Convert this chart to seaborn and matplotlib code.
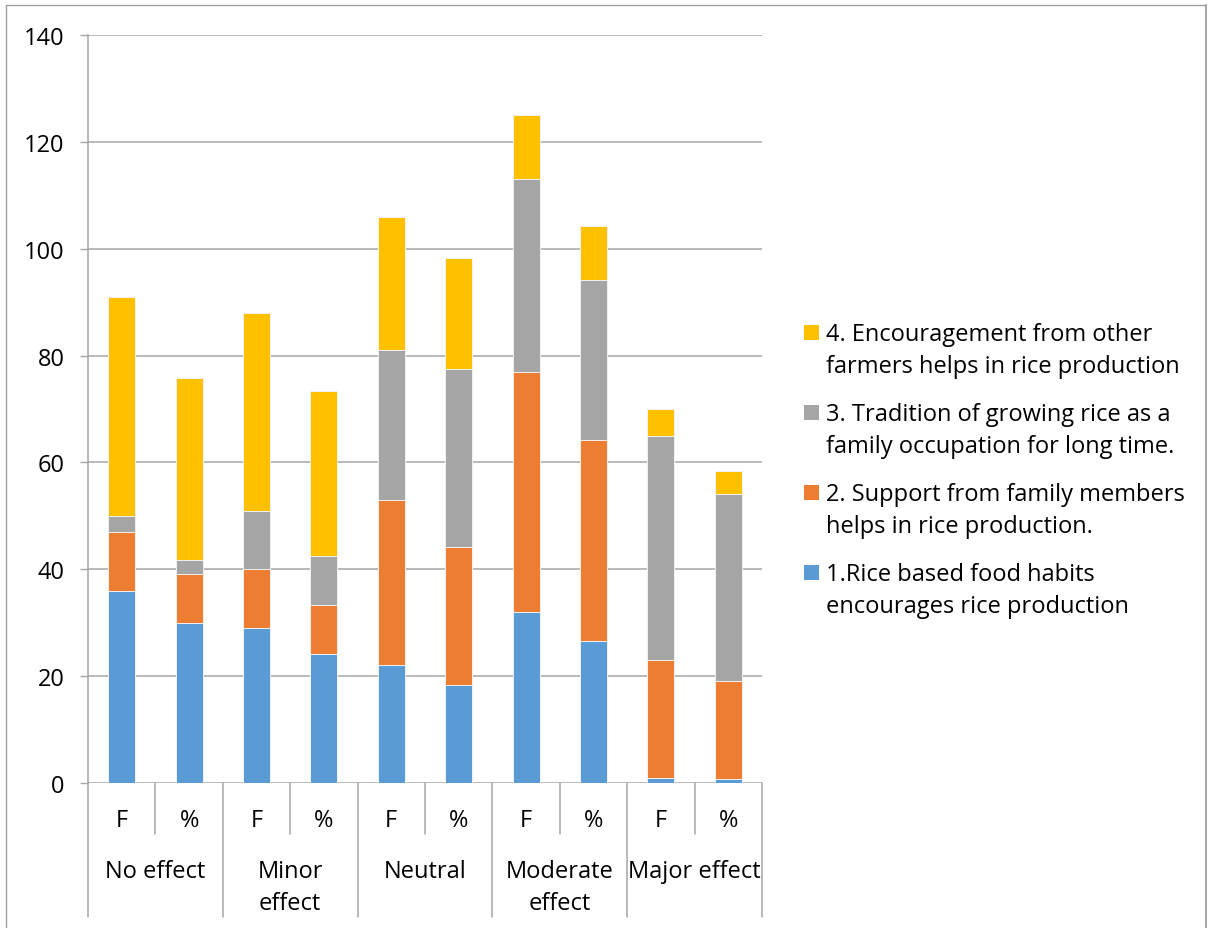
import matplotlib
matplotlib.use("Agg")
import matplotlib.pyplot as plt
import matplotlib.transforms as mtransforms
from matplotlib.patches import Rectangle
from matplotlib.lines import Line2D
import numpy as np
import pandas as pd
import seaborn as sns

# ---- data -------------------------------------------------------------
groups = ["No effect", "Minor\neffect", "Neutral", "Moderate\neffect", "Major effect"]
measures = ["F", "%"]

rice_food_habits = [36, 30.00, 29, 24.17, 22, 18.33, 32, 26.67, 1, 0.83]
family_support = [11, 9.17, 11, 9.17, 31, 25.83, 45, 37.50, 22, 18.33]
tradition = [3, 2.50, 11, 9.17, 28, 33.33, 36, 30.00, 42, 35.00]
farmer_encouragement = [41, 34.17, 37, 30.83, 25, 20.83, 12, 10.00, 5, 4.17]

series_labels = [
    "1.Rice based food habits\nencourages rice production",
    "2. Support from family members\nhelps in rice production.",
    "3. Tradition of growing rice as a\nfamily occupation for long time.",
    "4. Encouragement from other\nfarmers helps in rice production",
]
series_values = [rice_food_habits, family_support, tradition, farmer_encouragement]
series_colors = ["#5B9BD5", "#ED7D31", "#A5A5A5", "#FFC000"]

yticks = [0, 20, 40, 60, 80, 100, 120, 140]

# ---- figure setup -----------------------------------------------------
sns.set_style("white")
plt.rcParams["font.family"] = ["Open Sans", "DejaVu Sans"]
FS = 17

W, H = 1210, 929
fig = plt.figure(figsize=(W / 100, H / 100), dpi=100)

def fx(px):
    return px / W

def fy(py):
    return 1 - py / H

ax = fig.add_axes([fx(88), fy(784), fx(762) - fx(88), fy(36) - fy(784)])

bar_ids = [f"{g}|{m}" for g in groups for m in measures]
df = pd.DataFrame({"bar": bar_ids})
cum = np.zeros(len(bar_ids))
for name, vals in zip(series_labels, series_values):
    cum = cum + np.array(vals, dtype=float)
    df[name] = cum.copy()

# stacked bars: draw cumulative totals from the top segment down
for name, color in reversed(list(zip(series_labels, series_colors))):
    sns.barplot(data=df, x="bar", y=name, order=bar_ids, color=color,
                width=0.4, saturation=1, edgecolor="#f2f2f2", linewidth=0.7,
                ax=ax, zorder=3)

grid_c = "#A6A6A6"
ax.set_xlim(-0.5, len(bar_ids) - 0.5)
ax.set_ylim(0, 140)
ax.set_yticks(yticks)
ax.set_yticklabels([str(t) for t in yticks], fontsize=FS, color="#000000")
ax.tick_params(axis="y", length=5.8, width=1, color=grid_c, pad=11, direction="out", left=True)
ax.tick_params(axis="x", length=0, labelbottom=False)
ax.set_xlabel("")
ax.set_ylabel("")
ax.grid(axis="y", color=grid_c, linewidth=1.1, zorder=0)
ax.set_axisbelow(True)
for s in ["top", "right", "bottom"]:
    ax.spines[s].set_visible(False)
ax.spines["left"].set_color(grid_c)
ax.spines["left"].set_linewidth(1.1)

# ---- multi-level category axis ---------------------------------------
blend = mtransforms.blended_transform_factory(ax.transData, fig.transFigure)
n = len(bar_ids)
for i in range(n + 1):
    xpos = i - 0.5
    long_sep = (i % 2 == 0)
    y_end = fy(918) if long_sep else fy(835)
    ax.add_line(Line2D([xpos, xpos], [fy(784), y_end], transform=blend,
                       color=grid_c, linewidth=1.1, clip_on=False))

for i, bid in enumerate(bar_ids):
    m = bid.split("|")[1]
    ax.text(i, fy(827), m, transform=blend, ha="center", va="baseline",
            fontsize=FS, color="#000000")

for gi, g in enumerate(groups):
    center = gi * 2 + 0.5
    for li, line in enumerate(g.split("\n")):
        ax.text(center, fy(878 + li * 32), line, transform=blend,
                ha="center", va="baseline", fontsize=FS, color="#000000")

# ---- legend ------------------------------------------------------------
first_baselines = [581, 501, 421, 341]
for label, color, base in zip(series_labels, series_colors, first_baselines):
    fig.patches.append(Rectangle((fx(804), fy(base)), fx(819) - fx(804),
                                 fy(326) - fy(341), transform=fig.transFigure,
                                 facecolor=color, edgecolor="none"))
    for li, line in enumerate(label.split("\n")):
        fig.text(fx(826), fy(base + li * 32), line, ha="left", va="baseline",
                 fontsize=FS, color="#000000")

# ---- chart frame -------------------------------------------------------
frame_c = "#A0A0A0"
fig.add_artist(Line2D([fx(6), fx(1205.5)], [fy(6), fy(6)], transform=fig.transFigure,
                      color=frame_c, linewidth=1))
fig.add_artist(Line2D([fx(6), fx(6)], [fy(6), 0], transform=fig.transFigure,
                      color=frame_c, linewidth=1))
fig.add_artist(Line2D([fx(1205.5), fx(1205.5)], [fy(6), 0], transform=fig.transFigure,
                      color=frame_c, linewidth=1.3))

fig.savefig("out.png", dpi=100, facecolor="white")
